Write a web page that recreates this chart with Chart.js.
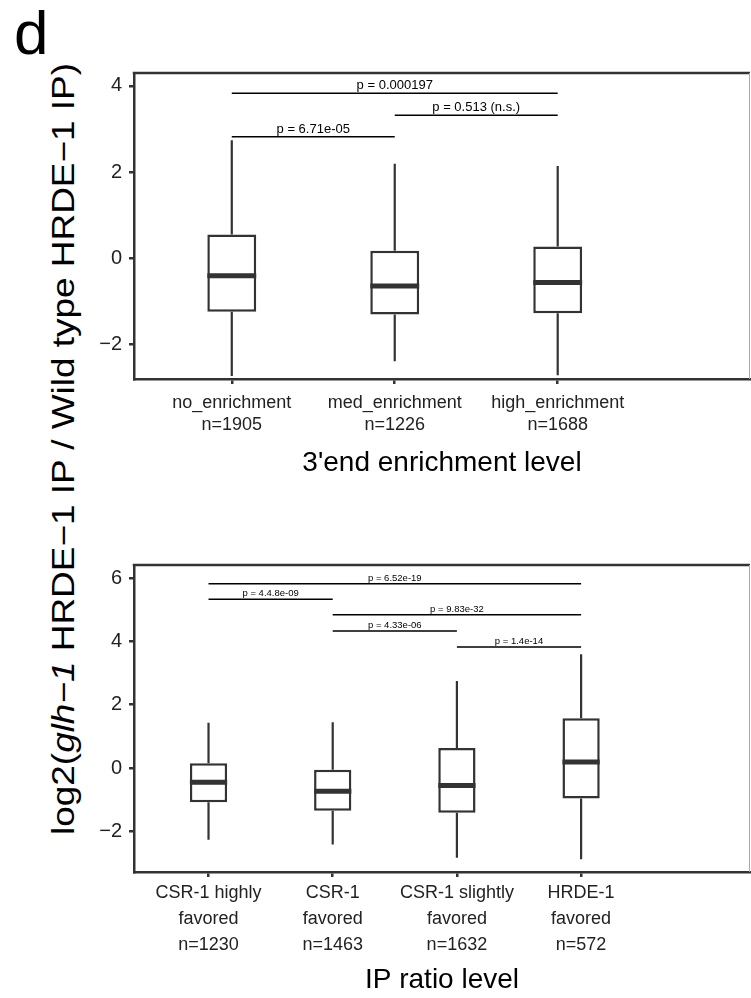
<!DOCTYPE html>
<html>
<head>
<meta charset="utf-8">
<script src="https://cdn.jsdelivr.net/npm/chart.js@4.4.1/dist/chart.umd.min.js"></script>
<style>
  body { margin: 0; background: #fff; width: 751px; height: 998px; position: relative; overflow: hidden;
         font-family: "Liberation Sans", Arial, sans-serif; }
  #tag { position: absolute; left: 14px; top: 2px; font-size: 62px; line-height: 1; color: #000; }
  #yTitle { position: absolute; left: 63px; top: 449px; white-space: nowrap; font-size: 31px; line-height: 1;
            color: #000; transform: translate(-50%, -50%) rotate(-90deg); }
  #topWrap { position: absolute; left: 0; top: 0; width: 751px; height: 480px; }
  #botWrap { position: absolute; left: 0; top: 500px; width: 751px; height: 498px; }
</style>
</head>
<body>
<div id="tag">d</div>
<div id="yTitle">log2(<i>glh−1</i> HRDE−1 IP / Wild type HRDE−1 IP)</div>
<div id="topWrap"><canvas id="topChart"></canvas></div>
<div id="botWrap"><canvas id="botChart"></canvas></div>

<script>
// ---- top panel: 3'end enrichment level ----
const topCats = ["no_enrichment", "med_enrichment", "high_enrichment"];
const topN = [1905, 1226, 1688];
const topLow = [-2.74, -2.40, -2.72];
const topQ1 = [-1.25, -1.31, -1.28];
const topMed = [-0.41, -0.65, -0.57];
const topQ3 = [0.55, 0.17, 0.27];
const topHigh = [2.74, 2.19, 2.14];
const topYTicks = [-2, 0, 2, 4];
const topPairFrom = [0, 1, 0];
const topPairTo = [2, 2, 1];
const topPairY = [3.83, 3.32, 2.82];
const topPairLabel = ["p = 0.000197", "p = 0.513 (n.s.)", "p = 6.71e-05"];

// ---- bottom panel: IP ratio level ----
const botCats = [["CSR-1 highly", "favored"], ["CSR-1", "favored"], ["CSR-1 slightly", "favored"], ["HRDE-1", "favored"]];
const botN = [1230, 1463, 1632, 572];
const botLow = [-2.26, -2.41, -2.83, -2.88];
const botQ1 = [-1.08, -1.35, -1.41, -0.96];
const botMed = [-0.45, -0.73, -0.55, 0.19];
const botQ3 = [0.15, -0.05, 0.63, 1.57];
const botHigh = [1.43, 1.45, 2.75, 3.59];
const botYTicks = [-2, 0, 2, 4, 6];
const botPairFrom = [0, 0, 1, 1, 2];
const botPairTo = [3, 1, 3, 2, 3];
const botPairY = [5.82, 5.33, 4.84, 4.33, 3.82];
const botPairLabel = ["p = 6.52e-19", "p = 4.4.8e-09", "p = 9.83e-32", "p = 4.33e-06", "p = 1.4e-14"];

const BOX_W = 0.3;   // box width in category units
const INK = "#333333";

function minusLabel(v) {
  return v < 0 ? "\u2212" + Math.abs(v) : String(v);
}

// top border + right edge of the panel frame
const framePlugin = {
  id: "frame",
  afterDraw(chart) {
    const { ctx, chartArea: a } = chart;
    ctx.save();
    ctx.strokeStyle = INK;
    ctx.lineWidth = 2.5;
    ctx.beginPath();
    ctx.moveTo(a.left - 1.25, a.top);
    ctx.lineTo(a.right, a.top);
    ctx.stroke();
    ctx.strokeStyle = "#aaaaaa";
    ctx.lineWidth = 1;
    ctx.beginPath();
    ctx.moveTo(a.right - 0.5, a.top);
    ctx.lineTo(a.right - 0.5, a.bottom);
    ctx.stroke();
    ctx.restore();
  }
};

// p-value text above each bracket
const pLabelPlugin = {
  id: "pLabels",
  afterDatasetsDraw(chart, args, opts) {
    const { ctx, scales: { x, y } } = chart;
    ctx.save();
    ctx.font = opts.size + 'px "Liberation Sans", Arial, sans-serif';
    ctx.fillStyle = "#000";
    ctx.textAlign = "center";
    ctx.textBaseline = "alphabetic";
    opts.from.forEach((f, k) => {
      const cx = x.getPixelForValue((f + opts.to[k]) / 2);
      const cy = y.getPixelForValue(opts.yv[k]) - opts.gap;
      ctx.fillText(opts.labels[k], cx, cy);
    });
    ctx.restore();
  }
};

function buildDatasets(low, q1, med, q3, high, from, to, yv) {
  const boxes = q1.map((v, i) => ({ x: i, y: [v, q3[i]] }));
  const whiskers = [];
  low.forEach((v, i) => {
    whiskers.push({ x: i, y: v }, { x: i, y: q1[i] }, { x: i, y: null },
                  { x: i, y: q3[i] }, { x: i, y: high[i] }, { x: i, y: null });
  });
  const medians = [];
  med.forEach((v, i) => {
    medians.push({ x: i - BOX_W / 2, y: v }, { x: i + BOX_W / 2, y: v }, { x: i, y: null });
  });
  const brackets = [];
  from.forEach((f, k) => {
    brackets.push({ x: f, y: yv[k] }, { x: to[k], y: yv[k] }, { x: to[k], y: null });
  });
  return [
    { type: "bar", data: boxes, backgroundColor: "#ffffff", borderColor: INK, borderWidth: 2.5,
      borderSkipped: false, categoryPercentage: 1, barPercentage: BOX_W, grouped: false, order: 3 },
    { type: "line", data: whiskers, borderColor: INK, borderWidth: 2.2, pointRadius: 0, spanGaps: false, order: 2 },
    { type: "line", data: medians, borderColor: INK, borderWidth: 5, borderCapStyle: "butt",
      pointRadius: 0, spanGaps: false, order: 1 },
    { type: "line", data: brackets, borderColor: "#000", borderWidth: 1.5, borderCapStyle: "butt",
      pointRadius: 0, spanGaps: false, order: 1 }
  ];
}

function axisCommon() {
  return {
    offset: false,
    grid: { drawOnChartArea: false, offset: false, tickLength: 5, color: INK, lineWidth: 2.5 },
    border: { color: INK, width: 2.5 }
  };
}

function makeChart(id, p) {
  return new Chart(document.getElementById(id), {
    type: "bar",
    data: { datasets: buildDatasets(p.low, p.q1, p.med, p.q3, p.high, p.from, p.to, p.yv) },
    options: {
      responsive: true,
      maintainAspectRatio: false,
      animation: false,
      events: [],
      layout: { padding: { top: p.padTop, right: 1, left: 0, bottom: 0 } },
      plugins: {
        legend: { display: false },
        tooltip: { enabled: false },
        pLabels: { from: p.from, to: p.to, yv: p.yv, labels: p.labels, size: p.pSize, gap: p.pGap }
      },
      scales: {
        x: Object.assign(axisCommon(), {
          type: "linear",
          min: -0.6,
          max: p.xMax,
          afterBuildTicks: s => { s.ticks = p.cats.map((c, i) => ({ value: i })); },
          afterFit: s => { s.height = p.xHeight; },
          ticks: {
            autoSkip: false, maxRotation: 0, minRotation: 0,
            color: "#222", padding: p.xPad,
            font: { size: 18, lineHeight: p.xLine },
            callback: v => p.tickText(v)
          },
          title: { display: true, text: p.xTitle, color: "#000",
                   font: { size: 28, lineHeight: 1.2 }, padding: { top: 0, bottom: p.titlePad } }
        }),
        y: Object.assign(axisCommon(), {
          min: p.yMin,
          max: p.yMax,
          afterBuildTicks: s => { s.ticks = p.yTicks.map(v => ({ value: v })); },
          afterFit: s => { s.width = 134; },
          ticks: { color: "#222", padding: 7, font: { size: 20 }, callback: v => minusLabel(v) }
        })
      }
    },
    plugins: [framePlugin, pLabelPlugin]
  });
}

makeChart("topChart", {
  cats: topCats, low: topLow, q1: topQ1, med: topMed, q3: topQ3, high: topHigh,
  from: topPairFrom, to: topPairTo, yv: topPairY, labels: topPairLabel,
  yTicks: topYTicks, yMin: -2.81, yMax: 4.30, xMax: 3.18,
  padTop: 73, xHeight: 101, xPad: 8, xLine: 1.22, titlePad: 0,
  pSize: 13, pGap: 4,
  xTitle: "3'end enrichment level",
  tickText: v => [topCats[v], "n=" + topN[v]]
});

makeChart("botChart", {
  cats: botCats, low: botLow, q1: botQ1, med: botMed, q3: botQ3, high: botHigh,
  from: botPairFrom, to: botPairTo, yv: botPairY, labels: botPairLabel,
  yTicks: botYTicks, yMin: -3.28, yMax: 6.41, xMax: 4.36,
  padTop: 65, xHeight: 126, xPad: 3, xLine: 1.44, titlePad: 1,
  pSize: 9.5, pGap: 3,
  xTitle: "IP ratio level",
  tickText: v => [...botCats[v], "n=" + botN[v]]
});

// squeeze the rotated y title to the length it has in the figure
const yt = document.getElementById("yTitle");
const ytScale = 772 / yt.getBoundingClientRect().height;
yt.style.transform = "translate(-50%, -50%) rotate(-90deg) scaleX(" + ytScale.toFixed(3) + ")";
</script>
</body>
</html>
